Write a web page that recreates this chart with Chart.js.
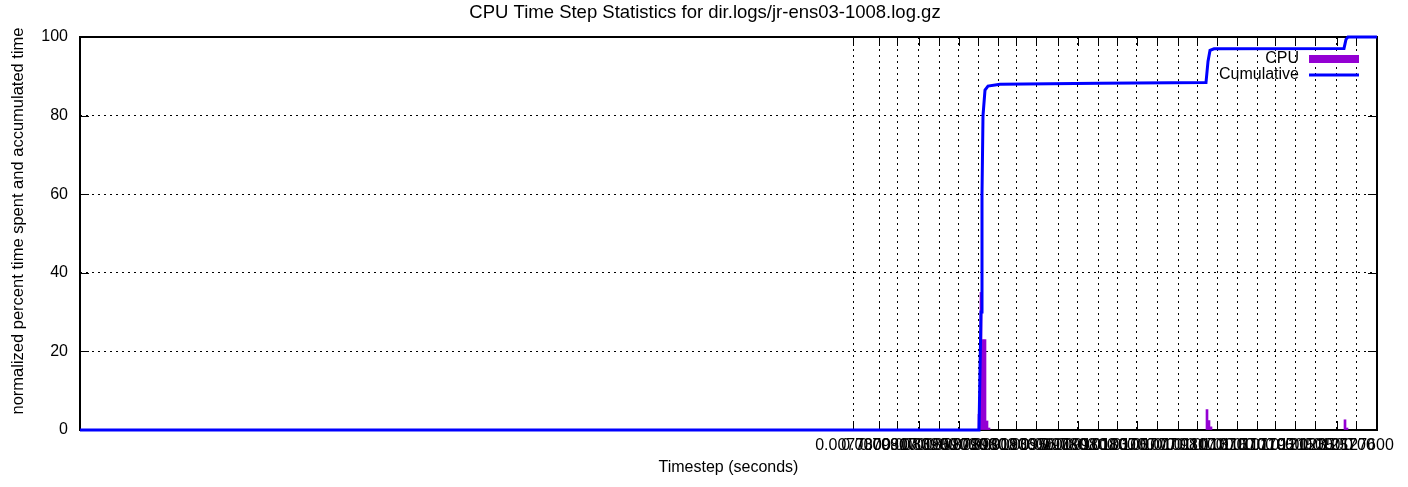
<!DOCTYPE html>
<html>
<head>
<meta charset="utf-8">
<script src="https://cdn.jsdelivr.net/npm/chart.js@4.4.1/dist/chart.umd.min.js"></script>
<style>
  html, body { margin: 0; padding: 0; background: #fff; }
</style>
</head>
<body>
<canvas id="myChart" width="1408" height="487"></canvas>
<script>
// Data (x in seconds)

var cpuX = [0.00899, 0.00901, 0.00903, 0.00905, 0.00907, 0.00909, 0.01127, 0.01129, 0.01131, 0.01265, 0.01267];
var cpuY = [4, 35, 23, 23, 2.3, 0.5, 5.2, 2.4, 0.8, 2.6, 0.5];

var cumX = [0, 0.00899, 0.00901, 0.00902, 0.00903, 0.00905, 0.00908, 0.0092, 0.0102, 0.01126, 0.01128, 0.0113, 0.01134, 0.01264, 0.01266, 0.01268, 0.01297];
var cumY = [0, 0, 30, 60, 80, 86.5, 87.5, 88, 88.2, 88.4, 93.8, 96.6, 97, 97.1, 99.4, 100, 100];

var tickValues = [0.00773, 0.00799, 0.00817, 0.00839, 0.00859, 0.00879, 0.00898, 0.00918, 0.00936,
  0.00956, 0.00978, 0.00998, 0.01018, 0.01037, 0.01057, 0.01077, 0.01098, 0.01117, 0.01137,
  0.01157, 0.01177, 0.01195, 0.01215, 0.01235, 0.01257, 0.01276];
var tickLabels = ["0.0077300", "0.0079900", "0.0081700", "0.0083900", "0.0085900", "0.0087900",
  "0.0089800", "0.0091800", "0.0093600", "0.0095600", "0.0097800", "0.0099800", "0.0101800",
  "0.0103700", "0.0105700", "0.0107700", "0.0109800", "0.0111700", "0.0113700", "0.0115700",
  "0.0117700", "0.0119500", "0.0121500", "0.0123500", "0.0125700", "0.0127600"];

var titleText = "CPU Time Step Statistics for dir.logs/jr-ens03-1008.log.gz";
var yTitleText = "normalized percent time spent and accumulated time";

var purple = "rgb(148, 0, 211)";
var blue = "rgb(0, 0, 255)";
var FONT = "'Liberation Sans', Arial, sans-serif";

// gnuplot style frame, inward ticks, titles and key
var gnuplotFrame = {
  id: "gnuplotFrame",
  beforeDatasetsDraw: function (chart) {
    var ctx = chart.ctx, a = chart.chartArea;
    var xs = chart.scales.x, ys = chart.scales.y;
    ctx.save();
    ctx.strokeStyle = "#000";
    ctx.lineWidth = 1;
    ctx.beginPath();
    xs.ticks.forEach(function (t) {
      var px = Math.round(xs.getPixelForValue(t.value)) + 0.5;
      ctx.moveTo(px, a.bottom); ctx.lineTo(px, a.bottom - 9);
      ctx.moveTo(px, a.top); ctx.lineTo(px, a.top + 9);
    });
    ys.ticks.forEach(function (t) {
      var py = Math.round(ys.getPixelForValue(t.value)) + 0.5;
      ctx.moveTo(a.left, py); ctx.lineTo(a.left + 9, py);
      ctx.moveTo(a.right, py); ctx.lineTo(a.right - 9, py);
    });
    ctx.stroke();
    ctx.lineWidth = 2;
    ctx.strokeRect(a.left, a.top, a.right - a.left, a.bottom - a.top);

    // titles
    ctx.fillStyle = "#000";
    ctx.textAlign = "center";
    ctx.textBaseline = "middle";
    ctx.font = "18.5px " + FONT;
    ctx.fillText(titleText, 705, 13);
    ctx.font = "16.5px " + FONT;
    ctx.translate(18, 221);
    ctx.rotate(-Math.PI / 2);
    ctx.fillText(yTitleText, 0, 0);
    ctx.restore();
  },
  afterDraw: function (chart) {
    var ctx = chart.ctx;
    ctx.save();
    ctx.font = "16px " + FONT;
    ctx.fillStyle = "#000";
    ctx.textAlign = "right";
    ctx.textBaseline = "middle";
    var sets = chart.data.datasets;
    // CPU
    ctx.fillText(sets[1].label, 1299, 59);
    ctx.fillStyle = purple;
    ctx.fillRect(1309, 55, 50, 8);
    // Cumulative
    ctx.fillStyle = "#000";
    ctx.fillText(sets[0].label, 1299, 75);
    ctx.strokeStyle = blue;
    ctx.lineWidth = 3;
    ctx.beginPath();
    ctx.moveTo(1309, 75); ctx.lineTo(1359, 75);
    ctx.stroke();
    ctx.restore();
  }
};

var ctx = document.getElementById("myChart").getContext("2d");
var chart = new Chart(ctx, {
  type: "bar",
  data: {
    datasets: [
      {
        type: "line",
        label: "Cumulative",
        data: cumX.map(function (x, i) { return { x: x, y: cumY[i] }; }),
        borderColor: blue,
        borderWidth: 3,
        pointRadius: 0,
        tension: 0,
        fill: false,
        clip: false,
        order: 0
      },
      {
        type: "bar",
        label: "CPU",
        data: cpuX.map(function (x, i) { return { x: x, y: cpuY[i] }; }),
        backgroundColor: purple,
        borderWidth: 0,
        barThickness: 2,
        order: 1
      }
    ]
  },
  options: {
    responsive: false,
    animation: false,
    layout: { padding: { left: 0, right: 31, top: 37, bottom: 0 } },
    plugins: {
      legend: { display: false },
      tooltip: { enabled: false },
      title: { display: false }
    },
    scales: {
      x: {
        type: "linear",
        min: 0,
        max: 0.01297,
        offset: false,
        afterBuildTicks: function (scale) {
          scale.ticks = tickValues.map(function (v) { return { value: v }; });
        },
        afterFit: function (scale) { scale.height = 57; },
        ticks: {
          autoSkip: false,
          maxRotation: 0,
          minRotation: 0,
          padding: 6,
          color: "#000",
          font: { family: FONT, size: 16 },
          callback: function (v, i) { return tickLabels[i]; }
        },
        grid: { color: "#000", lineWidth: 1, drawTicks: false, offset: false },
        border: { display: false, dash: [2, 4] },
        title: {
          display: true,
          text: "Timestep (seconds)",
          color: "#000",
          font: { family: FONT, size: 16 },
          padding: { top: 0, bottom: 10 }
        }
      },
      y: {
        min: 0,
        max: 100,
        afterFit: function (scale) { scale.width = 80; },
        ticks: {
          stepSize: 20,
          padding: 12,
          color: "#000",
          font: { family: FONT, size: 16 }
        },
        grid: { color: "#000", lineWidth: 1, drawTicks: false },
        border: { display: false, dash: [2, 4] }
      }
    }
  },
  plugins: [gnuplotFrame]
});
</script>
</body>
</html>
